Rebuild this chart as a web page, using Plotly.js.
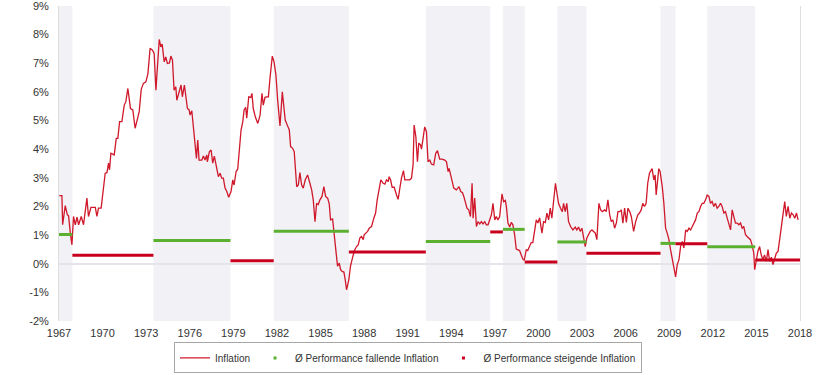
<!DOCTYPE html>
<html>
<head>
<meta charset="utf-8">
<script src="https://cdn.plot.ly/plotly-3.0.1.min.js"></script>
<style>
  html, body { margin: 0; padding: 0; background: #ffffff; }
  #chart { width: 821px; height: 375px; }
</style>
</head>
<body>
<div id="chart"></div>
<script>
// Inflation (decimal year, % y/y)
const years = [
1967.02,1967.2,1967.25,1967.43,1967.57,1967.66,1967.78,1967.89,1968.0,1968.12,1968.24,1968.35,1968.53,1968.69,1968.92,
1969.03,1969.2,1969.5,1969.61,1969.72,1969.9,1970.07,1970.18,1970.3,1970.41,1970.48,1970.57,1970.8,1970.94,
1971.05,1971.17,1971.33,1971.49,1971.6,1971.74,1971.92,1972.08,1972.24,1972.38,1972.52,1972.66,1972.81,1972.98,
1973.12,1973.27,1973.43,1973.55,1973.67,1973.76,1973.9,1974.01,1974.1,1974.24,1974.35,1974.46,1974.6,1974.7,1974.81,1974.92,
1975.04,1975.11,1975.27,1975.4,1975.49,1975.63,1975.75,1975.84,1975.96,1976.02,1976.14,1976.25,1976.37,1976.46,1976.55,1976.64,1976.83,1976.94,
1977.05,1977.17,1977.21,1977.35,1977.47,1977.58,1977.69,1977.81,1977.97,1978.09,1978.2,1978.31,1978.43,1978.55,1978.68,1978.84,1978.96,
1979.05,1979.19,1979.3,1979.41,1979.53,1979.65,1979.74,1979.85,1979.92,1980.06,1980.2,1980.28,1980.37,1980.51,1980.68,1980.84,1980.97,
1981.06,1981.18,1981.3,1981.41,1981.52,1981.59,1981.68,1981.8,1981.93,1982.05,1982.21,1982.37,1982.48,1982.57,1982.71,1982.85,1982.94,
1983.08,1983.19,1983.29,1983.36,1983.47,1983.58,1983.7,1983.81,1983.95,1984.11,1984.27,1984.39,1984.5,1984.62,1984.73,1984.84,1984.96,
1985.1,1985.23,1985.35,1985.49,1985.6,1985.69,1985.83,1985.92,1986.04,1986.17,1986.29,1986.38,1986.49,1986.61,1986.7,1986.79,1986.95,
1987.06,1987.22,1987.36,1987.48,1987.59,1987.71,1987.82,1987.94,1988.0,1988.12,1988.24,1988.35,1988.51,1988.67,1988.79,1988.9,
1989.04,1989.15,1989.31,1989.43,1989.54,1989.66,1989.72,1989.82,1989.93,1990.07,1990.23,1990.34,1990.46,1990.57,1990.71,1990.8,1990.92,
1991.03,1991.14,1991.26,1991.37,1991.44,1991.56,1991.67,1991.76,1991.88,1991.95,1992.09,1992.17,1992.29,1992.4,1992.52,1992.63,1992.79,1992.93,
1993.05,1993.2,1993.36,1993.55,1993.67,1993.78,1993.85,1993.96,1994.05,1994.17,1994.35,1994.47,1994.53,1994.65,1994.77,1994.86,1994.97,
1995.08,1995.2,1995.32,1995.43,1995.5,1995.61,1995.73,1995.84,1995.96,1996.07,1996.18,1996.3,1996.41,1996.53,1996.69,1996.76,1996.87,1996.99,
1997.1,1997.21,1997.33,1997.49,1997.6,1997.72,1997.79,1997.9,1998.02,1998.13,1998.24,1998.36,1998.47,1998.59,1998.7,1998.81,1998.93,
1999.02,1999.16,1999.26,1999.38,1999.5,1999.61,1999.73,1999.85,1999.96,2000.08,2000.24,2000.35,2000.47,2000.58,2000.7,2000.81,2000.92,
2001.04,2001.17,2001.29,2001.38,2001.52,2001.64,2001.73,2001.84,2001.95,2002.07,2002.21,2002.37,2002.53,2002.64,2002.76,2002.87,2002.99,
2003.1,2003.22,2003.33,2003.45,2003.56,2003.68,2003.8,2003.91,2004.02,2004.16,2004.28,2004.39,2004.55,2004.66,2004.78,2004.9,
2005.01,2005.12,2005.24,2005.36,2005.47,2005.59,2005.7,2005.81,2005.93,2006.05,2006.16,2006.28,2006.39,2006.55,2006.69,2006.84,2006.95,
2007.07,2007.18,2007.3,2007.41,2007.52,2007.64,2007.82,2007.94,2008.03,2008.1,2008.21,2008.28,2008.37,2008.52,2008.63,2008.75,2008.86,2008.98,
2009.09,2009.21,2009.33,2009.44,2009.55,2009.67,2009.78,2009.9,2010.01,2010.13,2010.24,2010.36,2010.47,2010.58,2010.7,2010.81,2010.93,
2011.04,2011.16,2011.27,2011.38,2011.5,2011.61,2011.73,2011.84,2011.95,2012.07,2012.18,2012.3,2012.41,2012.53,2012.64,2012.76,2012.87,2012.99,
2013.1,2013.22,2013.33,2013.45,2013.56,2013.68,2013.79,2013.91,2014.02,2014.13,2014.25,2014.36,2014.48,2014.59,2014.7,2014.82,2014.88,2014.99,
2015.1,2015.22,2015.33,2015.45,2015.56,2015.68,2015.8,2015.91,2016.03,2016.14,2016.26,2016.37,2016.49,2016.6,2016.72,2016.83,2016.95,
2017.06,2017.18,2017.3,2017.41,2017.53,2017.64,2017.76,2017.87
];
const inflation = [
2.38,2.38,1.36,2.03,1.71,1.67,1.07,0.66,1.65,1.36,1.63,1.36,1.65,1.36,2.29,
1.65,1.97,1.97,1.65,1.94,1.94,2.81,3.16,3.18,3.51,3.28,3.86,3.80,4.38,
4.38,4.96,4.96,5.54,5.66,6.12,5.42,5.37,4.73,5.02,5.31,6.09,6.30,6.35,
6.64,7.52,7.46,7.34,6.06,6.76,7.83,7.57,7.67,7.05,7.22,6.99,7.01,7.25,7.11,6.06,
6.18,5.71,6.06,6.24,5.83,6.24,5.77,5.42,5.37,5.19,5.34,4.78,4.32,3.68,4.32,3.62,3.62,3.76,
3.62,3.80,3.56,3.91,3.97,3.51,3.76,3.39,3.04,3.16,2.99,2.99,2.64,2.52,2.32,2.52,2.93,
2.75,3.22,3.30,3.86,4.67,4.96,5.37,5.46,5.08,5.83,5.81,5.95,5.42,5.13,4.90,5.19,5.95,
5.54,5.81,5.83,5.83,6.47,6.82,7.25,7.05,6.59,5.71,4.81,6.00,5.54,5.02,4.84,4.67,4.09,
4.03,3.91,3.28,2.69,2.75,3.18,2.75,2.64,2.93,3.10,2.81,2.58,2.23,1.47,2.11,2.06,2.23,
2.35,2.69,2.35,2.29,2.09,1.53,1.56,1.13,0.60,-0.09,0.02,-0.21,-0.27,-0.29,-0.56,-0.91,-0.56,
-0.09,0.25,0.49,0.60,0.66,0.90,0.95,0.84,1.01,1.07,1.13,1.24,1.30,1.59,1.77,2.23,
2.58,2.93,2.81,2.78,2.93,2.87,3.04,2.93,2.67,2.67,2.40,2.25,2.64,2.99,3.25,2.93,2.93,
2.93,2.93,2.99,3.45,4.84,4.44,3.56,4.21,4.15,4.00,4.49,4.78,4.61,3.56,3.62,3.48,3.45,3.86,
3.95,3.65,3.65,3.62,3.56,3.22,3.33,3.10,2.87,2.64,2.58,2.64,2.69,2.52,2.48,2.35,2.11,
1.94,1.88,1.65,2.81,1.59,2.29,1.30,1.47,1.39,1.47,1.39,1.47,1.36,1.36,1.59,1.71,2.11,1.53,
1.65,1.53,1.65,2.44,2.17,2.21,2.00,1.42,1.28,1.44,1.36,1.01,0.51,0.49,0.46,0.31,0.16,
0.12,0.49,0.46,0.58,0.74,0.74,1.07,1.53,1.42,1.60,1.07,1.47,1.44,1.77,1.53,1.94,1.59,
2.23,2.81,2.40,2.11,1.94,1.82,2.11,1.82,2.11,1.47,1.30,1.18,1.28,1.18,1.28,1.13,1.24,
0.95,0.60,0.90,1.01,1.13,1.18,1.13,1.07,0.84,2.11,1.88,1.82,1.88,1.82,2.23,1.71,
1.47,1.53,1.24,1.42,1.82,1.82,1.88,1.42,1.94,1.44,1.94,1.82,1.65,1.13,1.47,1.71,1.77,
1.88,2.11,2.00,2.11,2.81,3.16,3.32,2.93,3.10,2.40,3.16,3.32,3.22,2.69,2.11,1.24,1.07,0.84,
0.49,0.14,-0.15,-0.46,-0.03,0.14,0.60,0.78,0.55,1.18,1.13,1.24,1.18,1.30,1.42,1.53,1.77,
1.82,2.00,2.11,2.11,2.23,2.40,2.35,2.11,2.17,2.00,2.11,1.94,2.00,2.11,2.00,1.77,1.82,1.59,
1.42,1.18,1.88,1.59,1.42,1.42,1.36,1.42,1.24,1.30,1.01,0.95,0.90,0.84,0.66,0.37,-0.21,0.20,
0.43,0.60,0.31,0.14,0.31,0.08,0.49,0.08,0.23,-0.03,0.20,0.37,0.43,0.84,1.42,1.77,2.17,
1.65,2.00,1.59,1.77,1.71,1.59,1.77,1.53
];

// Phases of falling inflation (shaded) and average performance
const fallStart = [1967.0, 1973.5, 1981.78, 1992.25, 1997.55, 2001.3, 2008.4, 2011.62];
const fallEnd   = [1967.92, 1978.8, 1986.95, 1996.68, 1999.05, 2003.3, 2009.43, 2014.92];
const fallPerf  = [1.02, 0.81, 1.13, 0.78, 1.20, 0.76, 0.71, 0.59];

// Phases of rising inflation and average performance
const riseStart = [1967.92, 1978.8, 1986.95, 1996.68, 1999.05, 2003.3, 2009.43, 2014.92];
const riseEnd   = [1973.5, 1981.78, 1992.25, 1997.55, 2001.3, 2008.4, 2011.62, 2018.0];
const risePerf  = [0.30, 0.10, 0.41, 1.11, 0.06, 0.37, 0.70, 0.13];

const tickYears = [1967,1970,1973,1976,1979,1982,1985,1988,1991,1994,1997,2000,2003,2006,2009,2012,2015,2018];
const yTicks = [-2,-1,0,1,2,3,4,5,6,7,8,9];

const seriesNames = ['Inflation', '\u00D8 Performance fallende Inflation', '\u00D8 Performance steigende Inflation'];

function segments(starts, ends, vals) {
  const x = [], y = [];
  for (let i = 0; i < vals.length; i++) {
    x.push(starts[i], ends[i], null);
    y.push(vals[i], vals[i], null);
  }
  return {x, y};
}

const RED = '#d0182b';
const RED_SEG = '#c8001e';
const GREEN = '#5cb030';

const fallSeg = segments(fallStart, fallEnd, fallPerf);
const riseSeg = segments(riseStart, riseEnd, risePerf);

const traces = [
  { x: years, y: inflation, type: 'scatter', mode: 'lines', name: seriesNames[0],
    line: { color: RED, width: 1.3 }, showlegend: true },
  { x: fallSeg.x, y: fallSeg.y, type: 'scatter', mode: 'lines', name: seriesNames[1],
    line: { color: GREEN, width: 3 }, showlegend: false, connectgaps: false },
  { x: riseSeg.x, y: riseSeg.y, type: 'scatter', mode: 'lines', name: seriesNames[2],
    line: { color: RED_SEG, width: 3 }, showlegend: false, connectgaps: false },
  { x: [null], y: [null], type: 'scatter', mode: 'markers', name: seriesNames[1],
    marker: { color: GREEN, symbol: 'square', size: 3 }, showlegend: true },
  { x: [null], y: [null], type: 'scatter', mode: 'markers', name: seriesNames[2],
    marker: { color: RED_SEG, symbol: 'square', size: 3 }, showlegend: true }
];

const shapes = fallStart.map((s, i) => ({
  type: 'rect', xref: 'x', yref: 'paper', x0: s, x1: fallEnd[i], y0: 0, y1: 1,
  fillcolor: '#f1f1f6', line: { width: 0 }, layer: 'below'
}));

const layout = {
  width: 821, height: 375,
  margin: { l: 59, r: 21, t: 6, b: 54, pad: 0, autoexpand: false },
  paper_bgcolor: '#ffffff', plot_bgcolor: '#ffffff',
  font: { family: '"Liberation Sans", Arial, sans-serif', size: 11, color: '#333333' },
  showlegend: true,
  xaxis: {
    range: [1967, 2018], tickmode: 'array', tickvals: tickYears,
    ticktext: tickYears.map(String), showgrid: false, zeroline: false,
    showline: false, ticks: '', ticklabelstandoff: 4,
    tickfont: { size: 11, color: '#333333' }, automargin: false
  },
  yaxis: {
    range: [-2, 9], tickmode: 'array', tickvals: yTicks,
    ticktext: yTicks.map(v => v + '%'), showgrid: false,
    zeroline: true, zerolinecolor: '#e4e4ea', zerolinewidth: 2,
    showline: true, mirror: true, linecolor: '#dedede', linewidth: 1,
    ticks: '', ticklabelstandoff: 7, ticklabeloverflow: 'allow',
    tickfont: { size: 11, color: '#333333' }, automargin: false
  },
  shapes: shapes,
  legend: {
    orientation: 'h', xref: 'paper', x: 0.471, xanchor: 'center',
    yref: 'container', y: 0.087, yanchor: 'top',
    bordercolor: '#a6a6a6', borderwidth: 1, bgcolor: '#ffffff',
    font: { size: 10, color: '#333333' }, itemwidth: 30, tracegroupgap: 0
  }
};

Plotly.newPlot('chart', traces, layout, { displayModeBar: false, staticPlot: true });
</script>
</body>
</html>
